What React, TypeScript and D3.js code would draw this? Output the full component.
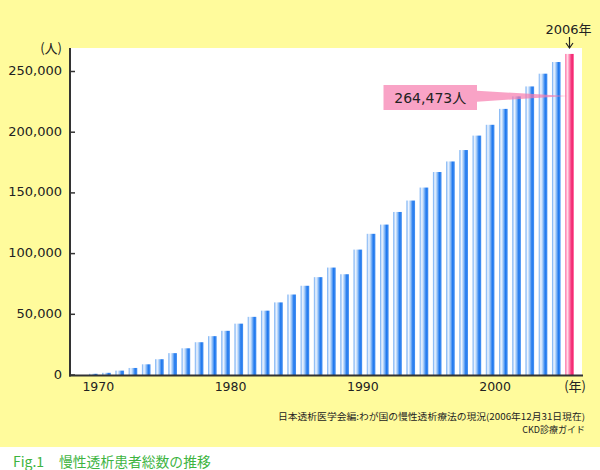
import React from "react";
import * as d3 from "d3";

const years: number[] = d3.range(1970, 2007);
const patients: number[] = [
  1000, 1800, 3600, 5800, 8800, 13000, 18000, 22000, 27000, 32000,
  36400, 42300, 47900, 53000, 59800, 66300, 73500, 80600, 88500, 83000,
  103300, 116300, 123900, 134300, 143700, 154400, 167200, 175900, 185300, 197200,
  206100, 219200, 229500, 237700, 248200, 257800, 264473,
];
const yTicks: number[] = [0, 50000, 100000, 150000, 200000, 250000];
const xTickYears: number[] = [1970, 1980, 1990, 2000];
const highlightYear = 2006;
const highlightLabel = "264,473人";
const yUnit = "(人)";
const xUnit = "(年)";
const source1 = "日本透析医学会編:わが国の慢性透析療法の現況(2006年12月31日現在)";
const source2 = "CKD診療ガイド";
const figNo = "Fig.1";
const figTitle = "慢性透析患者総数の推移";

const W = 600;
const H = 470;
const plotLeft = 70;
const plotRight = 582;
const plotTop = 48;
const plotBottom = 375;

const NUM_FONT = "'DejaVu Sans', 'Noto Sans CJK JP', sans-serif";
const JP_FONT = "'Noto Sans CJK JP', 'DejaVu Sans', sans-serif";

export default function App() {
  const x = d3.scaleLinear().domain([1970, 2006]).range([93.3, 569.5]);
  const y = d3.scaleLinear().domain([0, 250000]).range([plotBottom, 71.5]);
  const barW = 8.6;
  const fmt = d3.format(",");

  const hx = x(highlightYear);
  const boxX = 383.5;
  const boxY = 85;
  const boxW = 93.5;
  const boxH = 25;
  const tail = [
    [boxX + boxW, 90.7],
    [hx - 2, 96],
    [boxX + boxW, 101.7],
  ];

  return (
    <svg
      width={W}
      height={H}
      style={{ position: "absolute", left: 0, top: 0, display: "block" }}
    >
      <defs>
        <linearGradient id="blueBar" x1="0" x2="1" y1="0" y2="0">
          <stop offset="0%" stopColor="#6aa8f2" />
          <stop offset="24%" stopColor="#f2f7ff" />
          <stop offset="45%" stopColor="#a6ccf8" />
          <stop offset="75%" stopColor="#1f78ee" />
          <stop offset="100%" stopColor="#4a93f2" />
        </linearGradient>
        <linearGradient id="pinkBar" x1="0" x2="1" y1="0" y2="0">
          <stop offset="0%" stopColor="#ff5f9c" />
          <stop offset="25%" stopColor="#ffe0ea" />
          <stop offset="50%" stopColor="#ff7fae" />
          <stop offset="80%" stopColor="#f0206c" />
          <stop offset="100%" stopColor="#ff4f8e" />
        </linearGradient>
      </defs>

      <rect x={0} y={0} width={W} height={447} fill="#fffb9c" />
      <rect x={0} y={447} width={W} height={H - 447} fill="#ffffff" />
      <rect
        x={plotLeft}
        y={plotTop}
        width={plotRight - plotLeft}
        height={plotBottom - plotTop}
        fill="#ffffff"
      />

      {years.map((yr, i) => (
        <rect
          key={yr}
          x={x(yr) - barW / 2}
          y={y(patients[i])}
          width={barW}
          height={plotBottom - y(patients[i])}
          fill={yr === highlightYear ? "url(#pinkBar)" : "url(#blueBar)"}
        />
      ))}

      {/* callout */}
      <polygon
        points={tail.map((p) => p.join(",")).join(" ")}
        fill="#f67cae"
        fillOpacity={0.7}
      />
      <rect x={boxX} y={boxY} width={boxW} height={boxH} fill="#f9a3c6" />
      <text
        x={boxX + boxW / 2}
        y={boxY + boxH / 2 + 1}
        textAnchor="middle"
        dominantBaseline="middle"
        fontFamily={NUM_FONT}
        fontSize={14}
        fill="#222"
      >
        {highlightLabel}
      </text>

      {/* 2006 marker */}
      <text
        x={hx - 1}
        y={34}
        textAnchor="middle"
        fontFamily={NUM_FONT}
        fontSize={13}
        fill="#222"
      >
        {highlightYear}年
      </text>
      <line x1={hx} x2={hx} y1={37} y2={48} stroke="#222" strokeWidth={1.2} />
      <path
        d={`M${hx - 3.5},${43} L${hx},${48} L${hx + 3.5},${43}`}
        fill="none"
        stroke="#222"
        strokeWidth={1.2}
      />

      {/* axes */}
      {yTicks.map((t) => (
        <g key={t}>
          <line
            x1={plotLeft}
            x2={plotLeft + 5}
            y1={y(t)}
            y2={y(t)}
            stroke="#333"
            strokeWidth={1.5}
          />
          <text
            x={62}
            y={y(t)}
            textAnchor="end"
            dominantBaseline="middle"
            fontFamily={NUM_FONT}
            fontSize={13}
            fill="#222"
          >
            {fmt(t)}
          </text>
        </g>
      ))}
      <line
        x1={plotLeft}
        x2={plotLeft}
        y1={plotTop}
        y2={plotBottom + 1.5}
        stroke="#333"
        strokeWidth={2}
      />
      <line
        x1={plotLeft - 1}
        x2={plotRight + 1}
        y1={plotBottom + 0.5}
        y2={plotBottom + 0.5}
        stroke="#333"
        strokeWidth={2}
      />
      <text
        x={62}
        y={49}
        textAnchor="end"
        dominantBaseline="middle"
        fontFamily={JP_FONT}
        fontSize={13}
        fill="#222"
      >
        {yUnit}
      </text>

      {xTickYears.map((yr) => (
        <text
          key={yr}
          x={x(yr) + 5}
          y={387}
          textAnchor="middle"
          dominantBaseline="middle"
          fontFamily={NUM_FONT}
          fontSize={12.5}
          fill="#222"
        >
          {yr}
        </text>
      ))}
      <text
        x={586}
        y={387}
        textAnchor="end"
        dominantBaseline="middle"
        fontFamily={JP_FONT}
        fontSize={13}
        fill="#222"
      >
        {xUnit}
      </text>

      {/* source */}
      <text
        x={585}
        y={418}
        textAnchor="end"
        dominantBaseline="middle"
        fontFamily={JP_FONT}
        fontSize={9}
        fill="#222"
        textLength={307}
        lengthAdjust="spacingAndGlyphs"
      >
        {source1}
      </text>
      <text
        x={585}
        y={431}
        textAnchor="end"
        dominantBaseline="middle"
        fontFamily={JP_FONT}
        fontSize={9}
        fill="#222"
      >
        {source2}
      </text>

      {/* title */}
      <text
        x={13}
        y={463}
        dominantBaseline="middle"
        fontFamily={JP_FONT}
        fontSize={14}
        fill="#3db43f"
      >
        {figNo}
      </text>
      <text
        x={59}
        y={463}
        dominantBaseline="middle"
        fontFamily={JP_FONT}
        fontSize={13.8}
        fill="#3db43f"
      >
        {figTitle}
      </text>
    </svg>
  );
}
